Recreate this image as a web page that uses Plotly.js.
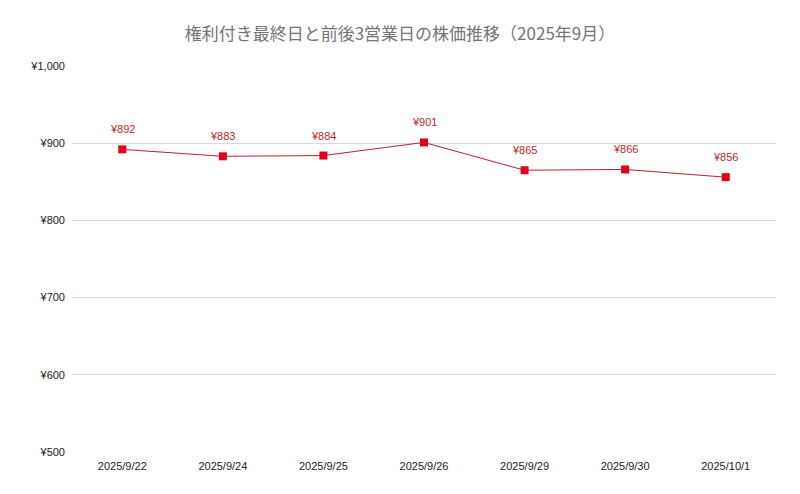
<!DOCTYPE html>
<html><head><meta charset="utf-8">
<script src="https://cdn.plot.ly/plotly-3.0.1.min.js"></script>
<style>html,body{margin:0;padding:0;background:#fff}#chart{width:800px;height:494px}</style>
</head><body><div id="chart"></div>
<script>
const dates = ["2025/9/22","2025/9/24","2025/9/25","2025/9/26","2025/9/29","2025/9/30","2025/10/1"];
const prices = [892, 883, 884, 901, 865, 866, 856];
const yTicks = [500, 600, 700, 800, 900, 1000];
const yTickLabels = ["¥500","¥600","¥700","¥800","¥900","¥1,000"];
const titleText = "権利付き最終日と前後3営業日の株価推移（2025年9月）";

const font = "'Liberation Sans', Arial, 'Noto Sans CJK JP', sans-serif";
const trace = {
  x: dates, y: prices, type: "scatter", mode: "lines+markers",
  line: {color: "#b8202c", width: 1},
  marker: {symbol: "square", size: 8, color: "#e0001b"},
  cliponaxis: false, hoverinfo: "skip"
};
const annotations = dates.map((d, i) => ({
  x: d, y: prices[i], xref: "x", yref: "y", text: "¥" + prices[i],
  showarrow: false, yshift: 20,
  font: {family: font, size: 11, color: "#c0262e"}
}));
const layout = {
  width: 800, height: 494,
  margin: {l: 72, r: 24, t: 66, b: 42},
  paper_bgcolor: "#fff", plot_bgcolor: "#fff",
  title: {text: titleText, x: 0.5, xanchor: "center", y: 0.932, yanchor: "middle",
    font: {family: "'Noto Sans CJK JP', sans-serif", size: 17, color: "#757575"}},
  showlegend: false,
  annotations: annotations,
  xaxis: {type: "category", range: [-0.5, 6.5], showgrid: false, zeroline: false,
    showline: false, ticks: "", ticklabelstandoff: 6, tickfont: {family: font, size: 11, color: "#222"}},
  yaxis: {range: [500, 1000], tickvals: yTicks, ticktext: yTickLabels,
    gridcolor: "#d9d9d9", gridwidth: 1, zeroline: false, showline: false, ticks: "",
    ticklabelstandoff: 6, tickfont: {family: font, size: 11, color: "#222"}}
};
Plotly.newPlot("chart", [trace], layout, {staticPlot: true, displayModeBar: false});
</script></body></html>
